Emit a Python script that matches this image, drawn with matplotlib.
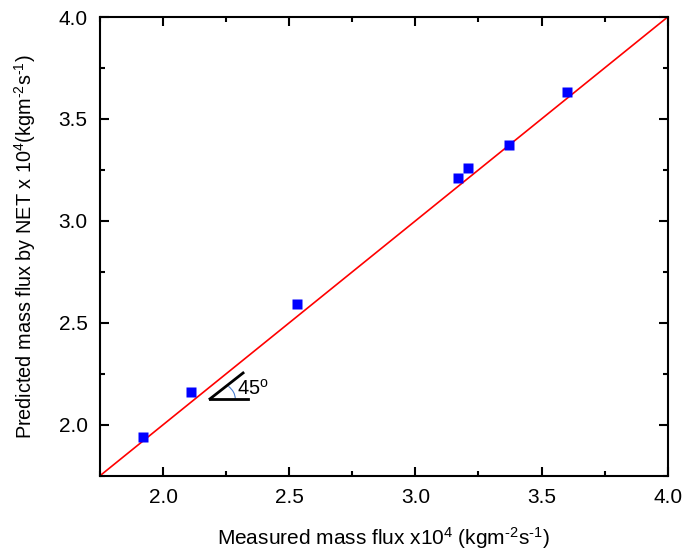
import matplotlib
matplotlib.use("Agg")
import matplotlib.pyplot as plt
from matplotlib.ticker import MultipleLocator
from matplotlib.patches import Arc

plt.rcParams['font.family'] = ['Liberation Sans', 'DejaVu Sans']
plt.rcParams['mathtext.fontset'] = 'custom'
plt.rcParams['mathtext.rm'] = 'Liberation Sans'
plt.rcParams['mathtext.it'] = 'Liberation Sans:italic'

# measured vs predicted mass flux (x10^4 kg m^-2 s^-1)
measured = [1.92, 2.11, 2.53, 3.17, 3.21, 3.37, 3.60]
predicted = [1.94, 2.16, 2.59, 3.21, 3.26, 3.37, 3.63]

lims = [1.75, 4.0]
ticks = [2.0, 2.5, 3.0, 3.5, 4.0]

# 45 degree marker
angle_vertex = (2.186, 2.127)
angle_h_end = 2.337
angle_d_end = (2.317, 2.254)

fig = plt.figure(figsize=(6.85, 5.54), dpi=100)
ax = fig.add_axes([0.146, 0.1413, 0.8287, 0.828])

ax.plot(lims, lims, color='#ff0000', lw=1.2, zorder=2)
ax.plot(measured, predicted, 's', color='#0000ff', ms=7.2, mec='none', zorder=3)

# angle sign
ax.plot([angle_vertex[0], angle_h_end], [angle_vertex[1], angle_vertex[1]], color='black', lw=2)
ax.plot([angle_vertex[0], angle_d_end[0]], [angle_vertex[1], angle_d_end[1]], color='black', lw=2)
ax.add_patch(Arc(angle_vertex, 0.2, 0.18, theta1=0, theta2=40, color='#4a7fd0', lw=0.8))
ax.text(2.293, 2.146, r'45$^{\mathrm{o}}$', fontsize=14.5, va='baseline')

ax.set_xlim(lims)
ax.set_ylim(lims)
ax.set_xticks(ticks)
ax.set_yticks(ticks)
ax.xaxis.set_minor_locator(MultipleLocator(0.25))
ax.yaxis.set_minor_locator(MultipleLocator(0.25))
ax.tick_params(which='both', direction='in', top=True, right=True, width=1.5, labelsize=15)
ax.tick_params(which='major', length=6.5, pad=9)
ax.tick_params(which='minor', length=3.5)
for s in ax.spines.values():
    s.set_linewidth(1.5)

ax.set_xlabel(r'Measured mass flux x10$^4$ (kgm$^{\text{-2}}$s$^{\text{-1}}$)', fontsize=15, labelpad=13)
ax.set_ylabel(r'Predicted mass flux by NET x 10$^4$(kgm$^{\text{-2}}$s$^{\text{-1}}$)', fontsize=14.3, labelpad=15)

fig.savefig('out.png', dpi=100)
